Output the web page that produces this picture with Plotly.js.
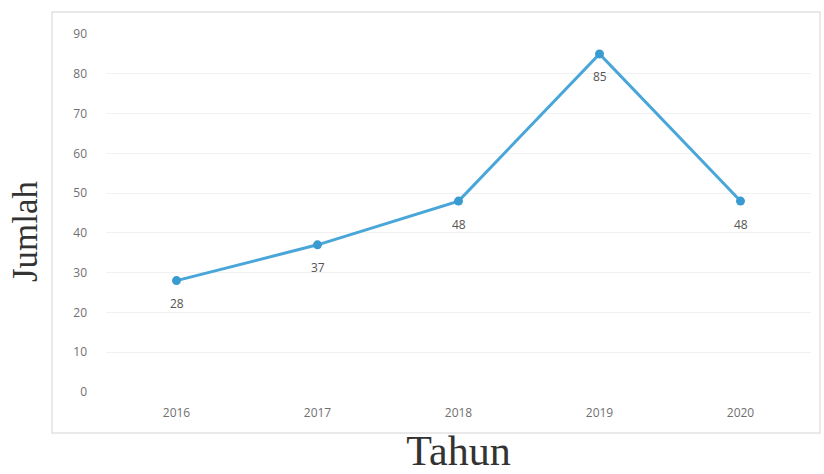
<!DOCTYPE html>
<html>
<head>
<meta charset="utf-8">
<script src="https://cdn.plot.ly/plotly-3.0.1.min.js"></script>
<style>html,body{margin:0;padding:0;background:#fff;}#chart{width:824px;height:474px;}</style>
</head>
<body>
<div id="chart"></div>
<script>
const years = ['2016', '2017', '2018', '2019', '2020'];
const jumlah = [28, 37, 48, 85, 48];
const yTicks = [0, 10, 20, 30, 40, 50, 60, 70, 80, 90];
const xTitle = 'Tahun';
const yTitle = 'Jumlah';

const trace = {
  x: years,
  y: jumlah,
  type: 'scatter',
  mode: 'lines+markers',
  line: {color: '#48a6d9', width: 3},
  marker: {color: '#3a9bd0', size: 9},
  cliponaxis: false,
  hoverinfo: 'x+y'
};

const labels = years.map((yr, i) => ({
  x: i, y: jumlah[i], xref: 'x', yref: 'y',
  text: String(jumlah[i]),
  showarrow: false,
  yshift: -23,
  font: {family: 'Open Sans, DejaVu Sans, sans-serif', size: 12, color: '#555555'}
}));

labels.push({
  xref: 'paper', yref: 'paper', x: -0.1149, y: 0.4497,
  xanchor: 'center', yanchor: 'middle',
  text: yTitle, textangle: -90, showarrow: false,
  font: {family: 'Liberation Serif, DejaVu Serif, serif', size: 35, color: '#333333'}
});

const layout = {
  width: 824,
  height: 474,
  margin: {l: 106, r: 13, t: 34, b: 82},
  paper_bgcolor: '#ffffff',
  plot_bgcolor: '#ffffff',
  showlegend: false,
  font: {family: 'Open Sans, DejaVu Sans, sans-serif', color: '#595959'},
  xaxis: {
    type: 'category',
    range: [-0.5, 4.5],
    showgrid: false,
    zeroline: false,
    showline: false,
    ticks: '',
    tickfont: {size: 12, color: '#707070'},
    ticklabelstandoff: 12,
    title: {text: xTitle, font: {family: 'Liberation Serif, DejaVu Serif, serif', size: 42, color: '#333333'}, standoff: 16}
  },
  yaxis: {
    range: [0, 90],
    tickvals: yTicks,
    ticktext: yTicks.map(String),
    showgrid: true,
    gridcolor: '#f1f1f1',
    gridwidth: 1,
    zeroline: false,
    showline: false,
    ticks: '',
    tickfont: {size: 12, color: '#707070'},
    ticklabelstandoff: 18
  },
  annotations: labels,
  shapes: [{
    type: 'rect', xref: 'paper', yref: 'paper',
    x0: -0.0766, x1: 1.0128, y0: -0.1145, y1: 1.0615,
    line: {color: '#e2e2e2', width: 1.5},
    fillcolor: 'rgba(0,0,0,0)',
    layer: 'below'
  }]
};

Plotly.newPlot('chart', [trace], layout, {displayModeBar: false, staticPlot: true});
</script>
</body>
</html>
